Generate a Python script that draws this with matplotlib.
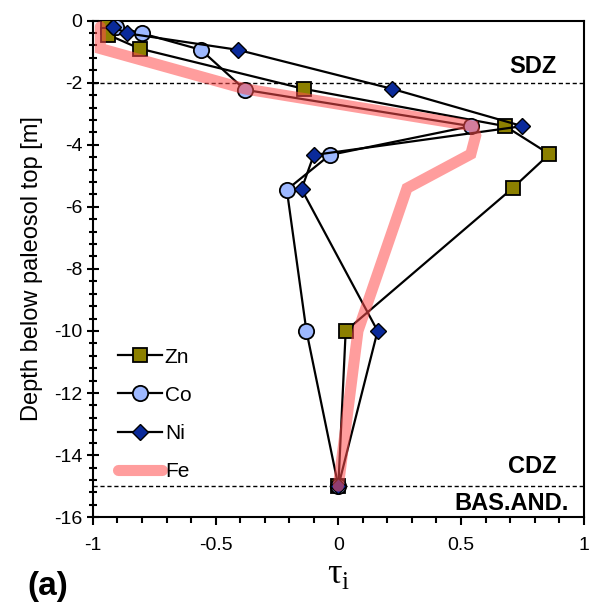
import matplotlib.pyplot as plt
from matplotlib.ticker import MultipleLocator, FormatStrFormatter

plt.rcParams['font.family'] = ['Liberation Sans', 'DejaVu Sans']
plt.rcParams['mathtext.fontset'] = 'custom'
plt.rcParams['mathtext.rm'] = 'Liberation Serif'

# depths below paleosol top [m]
zn_depth = [-0.2, -0.45, -0.9, -2.2, -3.4, -4.3, -5.4, -10, -15]
zn_tau = [-0.94, -0.94, -0.81, -0.14, 0.68, 0.86, 0.71, 0.03, 0.0]

co_depth = [-0.2, -0.41, -0.94, -2.23, -3.4, -4.33, -5.45, -10, -15]
co_tau = [-0.905, -0.80, -0.56, -0.38, 0.54, -0.035, -0.21, -0.13, 0.0]

ni_depth = [-0.2, -0.41, -0.94, -2.2, -3.4, -4.33, -5.43, -10, -15]
ni_tau = [-0.92, -0.86, -0.41, 0.22, 0.75, -0.10, -0.15, 0.16, 0.0]

fe_depth = [-0.2, -0.45, -0.9, -2.2, -3.4, -3.7, -4.3, -5.4, -10, -15]
fe_tau = [-0.97, -0.97, -0.97, -0.38, 0.55, 0.56, 0.54, 0.28, 0.08, 0.0]

fig = plt.figure(figsize=(5.92, 6.07), dpi=100)
ax = fig.add_axes([0.157, 0.148, 0.829, 0.818])

ax.plot(zn_tau, zn_depth, color='black', lw=1.6, marker='s', ms=10,
        mfc='#8C8000', mec='black', mew=1.3, label='Zn', zorder=3)
ax.plot(co_tau, co_depth, color='black', lw=1.6, marker='o', ms=11,
        mfc='#9DB8FF', mec='black', mew=1.3, label='Co', zorder=3)
ax.plot(ni_tau, ni_depth, color='black', lw=1.6, marker='D', ms=8,
        mfc='#0A2A9A', mec='black', mew=1.0, label='Ni', zorder=3)
ax.plot(fe_tau, fe_depth, color='#FF4D4D', alpha=0.55, lw=8,
        solid_joinstyle='miter', solid_capstyle='round', label='Fe', zorder=4)

ax.axhline(-2, color='black', lw=1, ls=(0, (3, 2)), zorder=2)
ax.axhline(-15, color='black', lw=1, ls=(0, (3, 2)), zorder=2)

ax.text(0.89, -1.48, 'SDZ', ha='right', va='center', fontsize=17, fontweight='bold')
ax.text(0.89, -14.38, 'CDZ', ha='right', va='center', fontsize=17, fontweight='bold')
ax.text(0.94, -15.57, 'BAS.AND.', ha='right', va='center', fontsize=17, fontweight='bold')

ax.set_xlim(-1, 1)
ax.set_ylim(-16, 0)
ax.xaxis.set_major_locator(MultipleLocator(0.5))
ax.xaxis.set_minor_locator(MultipleLocator(0.1))
ax.xaxis.set_major_formatter(FormatStrFormatter('%g'))
ax.yaxis.set_major_locator(MultipleLocator(2))
ax.yaxis.set_minor_locator(MultipleLocator(0.4))
ax.yaxis.set_major_formatter(FormatStrFormatter('%g'))
ax.tick_params(axis='x', which='both', direction='out', labelsize=14, width=1.5, pad=8)
ax.tick_params(axis='x', which='major', length=6)
ax.tick_params(axis='x', which='minor', length=4)
ax.tick_params(axis='y', which='both', direction='inout', labelsize=14, width=1.5)
ax.tick_params(axis='y', which='major', length=8)
ax.tick_params(axis='y', which='minor', length=6)
for s in ax.spines.values():
    s.set_linewidth(1.5)

ax.set_ylabel('Depth below paleosol top [m]', fontsize=17, labelpad=8)
ax.set_xlabel(r'$\mathrm{τ}_\mathrm{i}$', fontsize=26, labelpad=2)
fig.text(0.047, 0.033, '(a)', fontsize=24, fontweight='bold', va='center')

ax.legend(loc='lower left', bbox_to_anchor=(0.034, 0.056), frameon=False, fontsize=15,
          handlelength=2.1, handletextpad=0.15, labelspacing=0.92, borderaxespad=0)

fig.savefig('out.png', dpi=100)
